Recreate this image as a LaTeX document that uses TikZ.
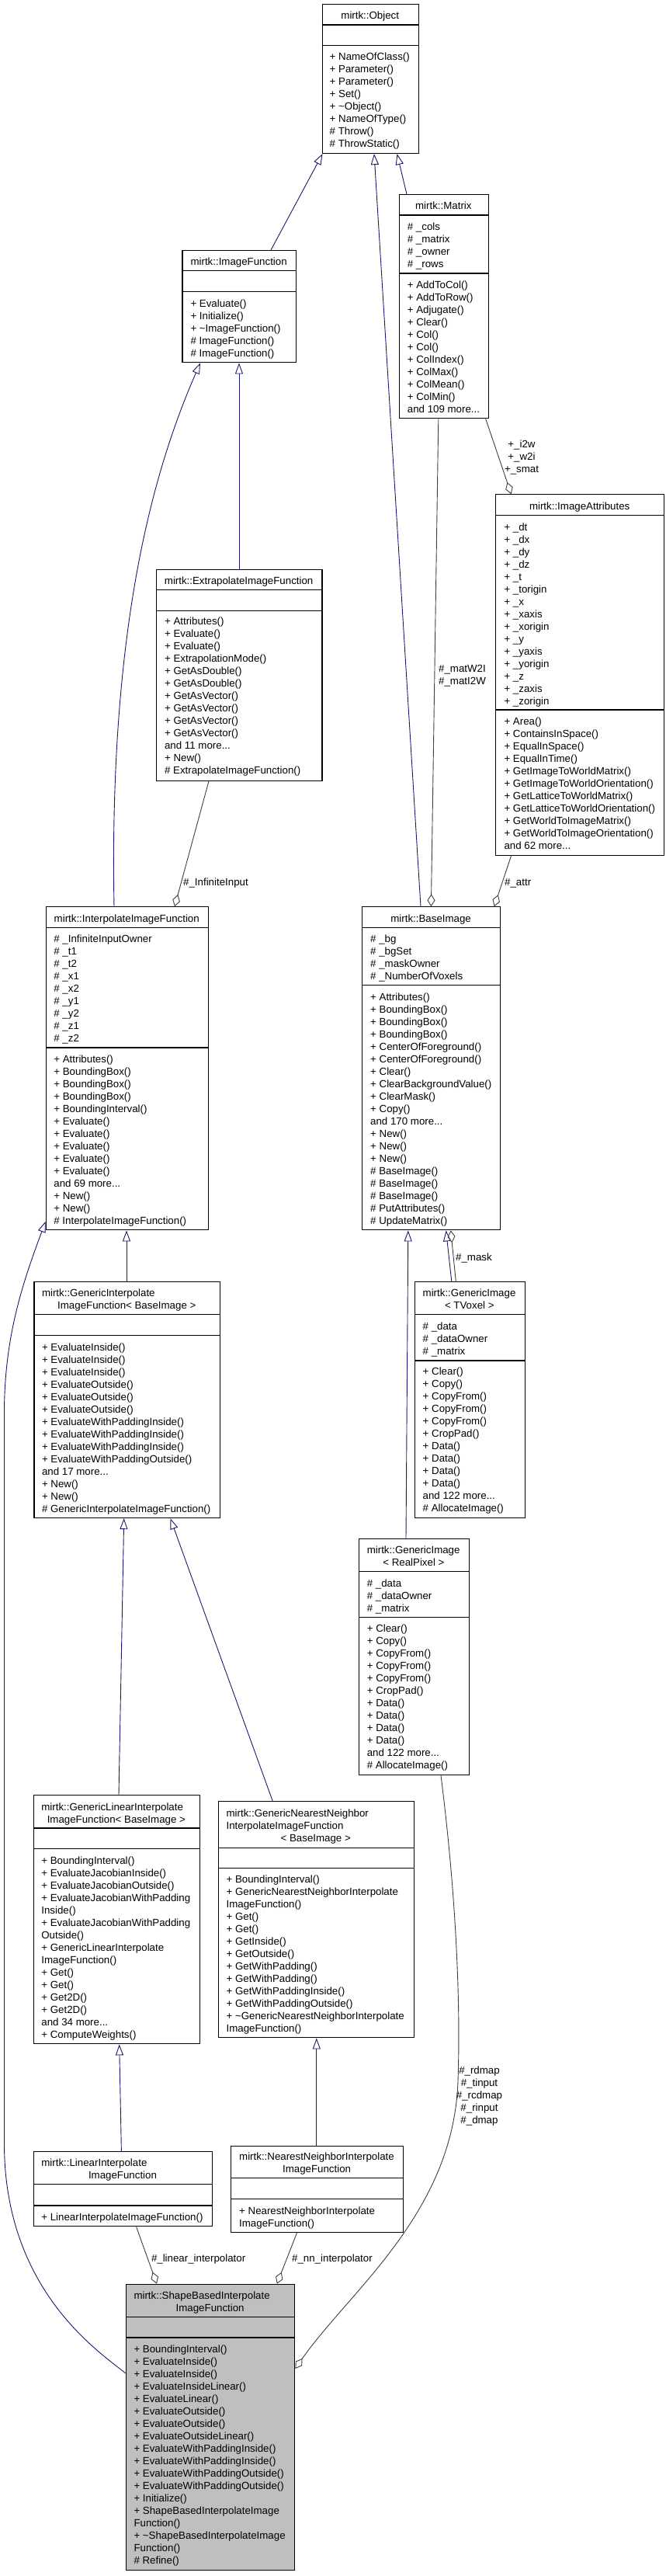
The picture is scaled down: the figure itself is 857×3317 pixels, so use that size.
\documentclass[tikz,border=0pt]{standalone}
\usepackage{fontspec}
\setmainfont{Liberation Sans}
\usetikzlibrary{arrows.meta}
\definecolor{inhcol}{HTML}{191970}
\definecolor{aggcol}{HTML}{404040}
\definecolor{selcol}{HTML}{BFBFBF}
\newcommand\dxf{\fontsize{13.3}{16}\selectfont}
\newcommand\ddd{...}
\newcommand\dxlines[4]{\foreach \tx [count=\i from 0] in {#4} {\node[txt] (#1\i) at (#2,{#3+16*\i}) {\tx};}}
\newcommand\umlbox[8][white]{%
  \node[cls, fill=#1, minimum width=#5pt, minimum height=#6pt] (#2) at (#3,#4) {};
  \draw[sepl] (#3,#7) -- ++(#5,0);
  \draw[sepl] (#3,#8) -- ++(#5,0);
}
\tikzset{
  cls/.style={draw=black, line width=1.1pt, inner sep=0pt, anchor=north west, rectangle},
  sepl/.style={draw=black, line width=1.1pt},
  txt/.style={anchor=base west, inner sep=0pt, font=\dxf},
  ttl/.style={anchor=base, inner sep=0pt, font=\dxf},
  elab/.style={inner sep=0pt, font=\dxf, align=center},
  inh/.style={draw=inhcol, line width=0.9pt, -{Triangle[open, length=14pt, width=10pt]}},
  agg/.style={draw=aggcol, line width=0.9pt, -{Diamond[open, length=16pt, width=10pt]}}
}
\begin{document}
\begin{tikzpicture}[x=1pt, y=-1pt]
\fill[white] (0,0) rectangle (857,3317);
\useasboundingbox (0,0) rectangle (857,3317);

% ---------- mirtk::Object
\umlbox{obj}{414.5}{4.7}{124.5}{192.3}{32}{58.3}
\node[ttl] (objt) at (476.75,24.5) {mirtk::Object};
\dxlines{objm}{424.5}{77.2}{{+ NameOfClass()},{+ Parameter()},{+ Parameter()},{+ Set()},{+ \textasciitilde Object()},{+ NameOfType()},{\# Throw()},{\# ThrowStatic()}}

% ---------- mirtk::Matrix
\umlbox{mat}{513.7}{250}{115.3}{288.3}{277}{352}
\node[ttl] (matt) at (571.35,269.2) {mirtk::Matrix};
\dxlines{mata}{524.7}{296.2}{{\# \_cols},{\# \_matrix},{\# \_owner},{\# \_rows}}
\dxlines{matm}{524.7}{371.2}{{+ AddToCol()},{+ AddToRow()},{+ Adjugate()},{+ Clear()},{+ Col()},{+ Col()},{+ ColIndex()},{+ ColMax()},{+ ColMean()},{+ ColMin()},{and 109 more\ddd}}

% ---------- mirtk::ImageFunction
\umlbox{imf}{234.4}{322}{146.5}{144.3}{348.7}{375.7}
\node[ttl] (imft) at (307.65,341.5) {mirtk::ImageFunction};
\dxlines{imfm}{245.3}{395.2}{{+ Evaluate()},{+ Initialize()},{+ \textasciitilde ImageFunction()},{\# ImageFunction()},{\# ImageFunction()}}

% ---------- mirtk::ExtrapolateImageFunction
\umlbox{ext}{200.9}{732.7}{213.5}{272}{759.3}{786.3}
\node[ttl] (extt) at (307.65,752.2) {mirtk::ExtrapolateImageFunction};
\dxlines{extm}{211.9}{804.8}{{+ Attributes()},{+ Evaluate()},{+ Evaluate()},{+ ExtrapolationMode()},{+ GetAsDouble()},{+ GetAsDouble()},{+ GetAsVector()},{+ GetAsVector()},{+ GetAsVector()},{+ GetAsVector()},{and 11 more\ddd},{+ New()},{\# ExtrapolateImageFunction()}}

% ---------- mirtk::ImageAttributes
\umlbox{att}{638.3}{636.3}{216.8}{464.4}{663.7}{914}
\node[ttl] (attt) at (746.7,656.2) {mirtk::ImageAttributes};
\dxlines{atta}{649.3}{683.5}{{+ \_dt},{+ \_dx},{+ \_dy},{+ \_dz},{+ \_t},{+ \_torigin},{+ \_x},{+ \_xaxis},{+ \_xorigin},{+ \_y},{+ \_yaxis},{+ \_yorigin},{+ \_z},{+ \_zaxis},{+ \_zorigin}}
\dxlines{attm}{649.3}{933.2}{{+ Area()},{+ ContainsInSpace()},{+ EqualInSpace()},{+ EqualInTime()},{+ GetImageToWorldMatrix()},{+ GetImageToWorldOrientation()},{+ GetLatticeToWorldMatrix()},{+ GetLatticeToWorldOrientation()},{+ GetWorldToImageMatrix()},{+ GetWorldToImageOrientation()},{and 62 more\ddd}}

% ---------- mirtk::InterpolateImageFunction
\umlbox{inf}{58.7}{1167.3}{209.1}{416}{1194.3}{1349}
\node[ttl] (inft) at (163.25,1187.2) {mirtk::InterpolateImageFunction};
\dxlines{infa}{69.2}{1213.5}{{\# \_InfiniteInputOwner},{\# \_t1},{\# \_t2},{\# \_x1},{\# \_x2},{\# \_y1},{\# \_y2},{\# \_z1},{\# \_z2}}
\dxlines{infm}{69.2}{1368.2}{{+ Attributes()},{+ BoundingBox()},{+ BoundingBox()},{+ BoundingBox()},{+ BoundingInterval()},{+ Evaluate()},{+ Evaluate()},{+ Evaluate()},{+ Evaluate()},{+ Evaluate()},{and 69 more\ddd},{+ New()},{+ New()},{\# InterpolateImageFunction()}}

% ---------- mirtk::BaseImage
\umlbox{bim}{466}{1167.3}{178.3}{416}{1194.3}{1268.7}
\node[ttl] (bimt) at (555.15,1187.2) {mirtk::BaseImage};
\dxlines{bima}{477}{1213.5}{{\# \_bg},{\# \_bgSet},{\# \_maskOwner},{\# \_NumberOfVoxels}}
\dxlines{bimm}{477}{1288.2}{{+ Attributes()},{+ BoundingBox()},{+ BoundingBox()},{+ BoundingBox()},{+ CenterOfForeground()},{+ CenterOfForeground()},{+ Clear()},{+ ClearBackgroundValue()},{+ ClearMask()},{+ Copy()},{and 170 more\ddd},{+ New()},{+ New()},{+ New()},{\# BaseImage()},{\# BaseImage()},{\# BaseImage()},{\# PutAttributes()},{\# UpdateMatrix()}}

% ---------- mirtk::GenericInterpolateImageFunction< BaseImage >
\umlbox{gif}{43.4}{1650}{239.8}{304}{1692.7}{1719.3}
\node[txt] (gift1) at (53.8,1669.5) {mirtk::GenericInterpolate};
\node[ttl] (gift2) at (163.3,1685.5) {ImageFunction< BaseImage >};
\dxlines{gifm}{53.8}{1739.2}{{+ EvaluateInside()},{+ EvaluateInside()},{+ EvaluateInside()},{+ EvaluateOutside()},{+ EvaluateOutside()},{+ EvaluateOutside()},{+ EvaluateWithPaddingInside()},{+ EvaluateWithPaddingInside()},{+ EvaluateWithPaddingInside()},{+ EvaluateWithPaddingOutside()},{and 17 more\ddd},{+ New()},{+ New()},{\# GenericInterpolateImageFunction()}}

% ---------- mirtk::GenericImage< TVoxel >
\umlbox{gtv}{534}{1650}{141.6}{304}{1692.7}{1752}
\node[txt] (gtvt1) at (544.5,1669.5) {mirtk::GenericImage};
\node[ttl] (gtvt2) at (604.8,1685.5) {< TVoxel >};
\dxlines{gtva}{544.5}{1712.5}{{\# \_data},{\# \_dataOwner},{\# \_matrix}}
\dxlines{gtvm}{544.5}{1770.8}{{+ Clear()},{+ Copy()},{+ CopyFrom()},{+ CopyFrom()},{+ CopyFrom()},{+ CropPad()},{+ Data()},{+ Data()},{+ Data()},{+ Data()},{and 122 more\ddd},{\# AllocateImage()}}

% ---------- mirtk::GenericImage< RealPixel >
\umlbox{grp}{462.1}{1981}{141.6}{304}{2023.3}{2082.3}
\node[txt] (grpt1) at (472.6,2000.2) {mirtk::GenericImage};
\node[ttl] (grpt2) at (532.9,2016.2) {< RealPixel >};
\dxlines{grpa}{472.6}{2043.2}{{\# \_data},{\# \_dataOwner},{\# \_matrix}}
\dxlines{grpm}{472.6}{2101.2}{{+ Clear()},{+ Copy()},{+ CopyFrom()},{+ CopyFrom()},{+ CopyFrom()},{+ CropPad()},{+ Data()},{+ Data()},{+ Data()},{+ Data()},{and 122 more\ddd},{\# AllocateImage()}}

% ---------- mirtk::GenericLinearInterpolateImageFunction< BaseImage >
\umlbox{gli}{42.8}{2311.3}{214.1}{320}{2354}{2380.7}
\node[txt] (glit1) at (53.2,2331.2) {mirtk::GenericLinearInterpolate};
\node[ttl] (glit2) at (149.85,2347.2) {ImageFunction< BaseImage >};
\dxlines{glim}{53.2}{2400.5}{{+ BoundingInterval()},{+ EvaluateJacobianInside()},{+ EvaluateJacobianOutside()},{+ EvaluateJacobianWithPadding},{Inside()},{+ EvaluateJacobianWithPadding},{Outside()},{+ GenericLinearInterpolate},{ImageFunction()},{+ Get()},{+ Get()},{+ Get2D()},{+ Get2D()},{and 34 more\ddd},{+ ComputeWeights()}}

% ---------- mirtk::GenericNearestNeighborInterpolateImageFunction< BaseImage >
\umlbox{gnn}{280.5}{2319.3}{252.5}{304}{2379.3}{2405.7}
\node[txt] (gnnt1) at (291.4,2339.2) {mirtk::GenericNearestNeighbor};
\node[txt] (gnnt2) at (291.4,2355.2) {InterpolateImageFunction};
\node[ttl] (gnnt3) at (406.75,2371.2) {< BaseImage >};
\dxlines{gnnm}{291.4}{2424.5}{{+ BoundingInterval()},{+ GenericNearestNeighborInterpolate},{ImageFunction()},{+ Get()},{+ Get()},{+ GetInside()},{+ GetOutside()},{+ GetWithPadding()},{+ GetWithPadding()},{+ GetWithPaddingInside()},{+ GetWithPaddingOutside()},{+ \textasciitilde GenericNearestNeighborInterpolate},{ImageFunction()}}

% ---------- mirtk::LinearInterpolateImageFunction
\umlbox{lin}{42.8}{2770.3}{230.5}{96}{2812.7}{2840}
\node[txt] (lint1) at (53.2,2789.2) {mirtk::LinearInterpolate};
\node[ttl] (lint2) at (158,2805.2) {ImageFunction};
\dxlines{linm}{53.2}{2859.5}{{+ LinearInterpolateImageFunction()}}

% ---------- mirtk::NearestNeighborInterpolateImageFunction
\umlbox{nn}{297}{2762.7}{222.2}{111.3}{2804.7}{2831.7}
\node[txt] (nnt1) at (308,2781.2) {mirtk::NearestNeighborInterpolate};
\node[ttl] (nnt2) at (408.1,2797.2) {ImageFunction};
\dxlines{nnm}{308}{2851.2}{{+ NearestNeighborInterpolate},{ImageFunction()}}

% ---------- mirtk::ShapeBasedInterpolateImageFunction
\umlbox[selcol]{sbi}{162}{2940.7}{217.3}{368}{2983.3}{3010}
\node[txt] (sbit1) at (172.3,2960.2) {mirtk::ShapeBasedInterpolate};
\node[ttl] (sbit2) at (270.65,2976.2) {ImageFunction};
\dxlines{sbim}{172.3}{3029.5}{{+ BoundingInterval()},{+ EvaluateInside()},{+ EvaluateInside()},{+ EvaluateInsideLinear()},{+ EvaluateLinear()},{+ EvaluateOutside()},{+ EvaluateOutside()},{+ EvaluateOutsideLinear()},{+ EvaluateWithPaddingInside()},{+ EvaluateWithPaddingInside()},{+ EvaluateWithPaddingOutside()},{+ EvaluateWithPaddingOutside()},{+ Initialize()},{+ ShapeBasedInterpolateImage},{Function()},{+ \textasciitilde ShapeBasedInterpolateImage},{Function()},{\# Refine()}}

% ---------- inheritance
\draw[inh] ([xshift=114.6pt]imf.north west) -- ([xshift=1pt]obj.south west);
\draw[inh] ([xshift=76pt]bim.north west) -- ([xshift=67.5pt]obj.south west);
\draw[inh] ([xshift=10.3pt]mat.north west) -- ([xshift=97pt]obj.south west);
\draw[inh] ([xshift=88.3pt]inf.north west) .. controls (140,800) and (200,600) .. ([xshift=23.6pt]imf.south west);
\draw[inh] ([xshift=107.1pt]ext.north west) -- ([xshift=73.6pt]imf.south west);
\draw[inh] ([xshift=119.6pt]gif.north west) -- ([xshift=104.3pt]inf.south west);
\draw[inh] ([yshift=-115.3pt]sbi.north west) .. controls (130,3030) and (5.5,2950) .. (5.5,2760) -- (5.5,1820) .. controls (5.5,1720) and (30,1650) .. ([yshift=11.6pt]inf.south west);
\draw[inh] ([xshift=110.2pt]gli.north west) -- ([xshift=116.3pt]gif.south west);
\draw[inh] ([xshift=70.8pt]gnn.north west) -- ([xshift=176.1pt]gif.south west);
\draw[inh] ([xshift=113.6pt]lin.north west) -- ([xshift=110.9pt]gli.south west);
\draw[inh] ([xshift=110.8pt]nn.north west) -- ([xshift=127.3pt]gnn.south west);
\draw[inh] ([xshift=47.8pt]gtv.north west) -- ([xshift=108.6pt]bim.south west);
\draw[inh] ([xshift=60.9pt]grp.north west) -- ([xshift=59.8pt]bim.south west);

% ---------- aggregation
\draw[agg] ([xshift=68.1pt]ext.south west) -- ([xshift=166.3pt]inf.north west);
\draw[agg] ([xshift=51.1pt]mat.south west) -- ([xshift=89.4pt]bim.north west);
\draw[agg] ([xshift=112pt]mat.south west) -- ([xshift=20.3pt]att.north west);
\draw[agg] ([xshift=20.3pt]att.south west) -- ([xshift=170.7pt]bim.north west);
\draw[agg] ([xshift=53.3pt]gtv.north west) -- ([xshift=114.7pt]bim.south west);
\draw[agg] ([xshift=105.9pt]grp.south west) .. controls (585,2420) and (594,2560) .. (590,2680) .. controls (584,2850) and (450,2950) .. ([yshift=-109.3pt]sbi.north east);
\draw[agg] ([xshift=132.8pt]lin.south west) -- ([xshift=40pt]sbi.north west);
\draw[agg] ([xshift=85.5pt]nn.south west) -- ([xshift=194.8pt]sbi.north west);

% ---------- edge labels
\node[elab, anchor=base west] (lInf) at (236,1140.2) {\#\_InfiniteInput};
\node[elab] (lMat) at (595.5,870.3) {\#\_matW2I\\\#\_matI2W};
\node[elab] (lI2w) at (672,589) {+\_i2w\\+\_w2i\\+\_smat};
\node[elab, anchor=base west] (lAttr) at (650,1140.2) {\#\_attr};
\node[elab, anchor=base west] (lMask) at (587,1623.5) {\#\_mask};
\node[elab] (lMaps) at (617.5,2698.7) {\#\_rdmap\\\#\_tinput\\\#\_rcdmap\\\#\_rinput\\\#\_dmap};
\node[elab, anchor=base west] (lLin) at (194.8,2912.8) {\#\_linear\_interpolator};
\node[elab, anchor=base west] (lNN) at (376,2912.8) {\#\_nn\_interpolator};
\end{tikzpicture}
\end{document}
